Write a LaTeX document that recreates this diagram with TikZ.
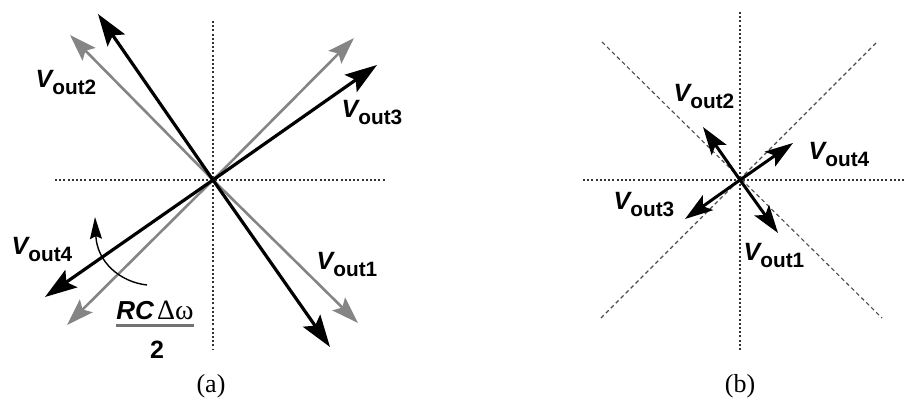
\documentclass[tikz,border=0pt]{standalone}
\usepackage{fontspec}
\setmainfont{Liberation Serif}
\setsansfont{Liberation Sans}
\usetikzlibrary{arrows.meta}
\tikzset{
  axis/.style={draw=black!80,line width=1.2pt,dash pattern=on 1pt off 1.1pt},
  diag/.style={draw=black!70,line width=0.55pt,dash pattern=on 2pt off 1.5pt},
  blkvec/.style={-{Stealth[length=16pt,width=10.5pt,inset=3pt]},draw=black,line width=1.6pt},
  grayvec/.style={-{Stealth[length=13.5pt,width=9pt,inset=2.5pt]},draw=black!48,line width=1.3pt},
  smallvec/.style={-{Stealth[length=14pt,width=9pt,inset=3pt]},draw=black,line width=1.5pt},
  turn/.style={-{Stealth[length=11pt,width=6pt,inset=1.5pt]},draw=black,line width=0.7pt},
  lbl/.style={inner sep=0pt,font=\sffamily},
  captext/.style={inner sep=0pt,font=\rmfamily\fontsize{13}{15}\selectfont}
}
\newcommand{\Vsub}[1]{{\fontsize{12.5}{14}\selectfont\bfseries\itshape V}\raisebox{-3.5pt}{\fontsize{10.4}{12}\selectfont\bfseries out#1}}

\begin{document}
\begin{tikzpicture}[x=0.5pt,y=-0.5pt]
  \useasboundingbox (0,0) rectangle (910,406);
  % (a) axes
  \coordinate (Oa) at (213,180);
  \coordinate (at) at (213,21);
  \coordinate (ab) at (213,350);
  \coordinate (al) at (55,180);
  \coordinate (ar) at (385,180);
  \draw[axis] (at) -- (ab);
  \draw[axis] (al) -- (ar);
  % (a) vectors
  \coordinate (g1) at (358,323);
  \coordinate (g2) at (70,35);
  \coordinate (g3) at (354,38);
  \coordinate (g4) at (67,325);
  \coordinate (a1) at (330,347);
  \coordinate (a2) at (98,14);
  \coordinate (a3) at (377,65);
  \coordinate (a4) at (45,297);
  \foreach \k in {1,...,4} \draw[grayvec] (Oa) -- (g\k);
  \foreach \k in {1,...,4} \draw[blkvec] (Oa) -- (a\k);
  \node[lbl] (la2) at (66,83) {\Vsub{2}};
  \node[lbl] (la3) at (372,113) {\Vsub{3}};
  \node[lbl] (la4) at (42,250) {\Vsub{4}};
  \node[lbl] (la1) at (347,265) {\Vsub{1}};
  % rotation mark
  \node[lbl] (num) at (155,310) {{\fontsize{13}{15}\selectfont\bfseries\itshape RC}\,{\rmfamily\fontsize{14}{16}\selectfont Δω}};
  \node[lbl,anchor=north] (den) at (157,341) {\fontsize{12.5}{14}\selectfont\bfseries 2};
  \draw[draw=black!55,line width=1.3pt] ([yshift=-3pt]num.south west) -- ([yshift=-3pt]num.south east);
  \coordinate (ts) at (147,285);
  \coordinate (te) at (95,217);
  \draw[turn] (ts) .. controls (120,282) and (97,262) .. (te);
  \node[captext] (capa) at (211,386) {(a)};
  % (b) axes
  \coordinate (Ob) at (740,180);
  \coordinate (bt) at (740,12);
  \coordinate (bb) at (740,350);
  \coordinate (bl) at (583,180);
  \coordinate (br) at (905,180);
  \coordinate (d1) at (602,42);
  \coordinate (d2) at (882,318);
  \coordinate (d3) at (876,43);
  \coordinate (d4) at (599,320);
  \draw[axis] (bt) -- (bb);
  \draw[axis] (bl) -- (br);
  \draw[diag] (d1) -- (d2);
  \draw[diag] (d3) -- (d4);
  % (b) vectors
  \coordinate (b1) at (778,233);
  \coordinate (b2) at (703,127);
  \coordinate (b3) at (685,219);
  \coordinate (b4) at (793,143);
  \foreach \k in {1,...,4} \draw[smallvec] (Ob) -- (b\k);
  \node[lbl] (lb2) at (704,97) {\Vsub{2}};
  \node[lbl] (lb4) at (839,155) {\Vsub{4}};
  \node[lbl] (lb3) at (644,205) {\Vsub{3}};
  \node[lbl] (lb1) at (774,256) {\Vsub{1}};
  \node[captext] (capb) at (740,386) {(b)};
\end{tikzpicture}
\end{document}
